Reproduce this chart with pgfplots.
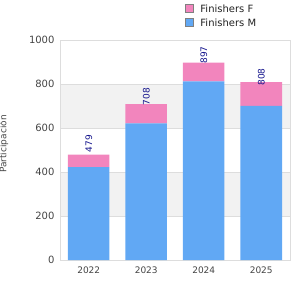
\documentclass[border=0pt]{standalone}
\usepackage{fontspec}
\setmainfont{DejaVu Sans}
\usepackage{pgfplots}
\usepackage{pgfplotstable}
\pgfplotsset{compat=1.18}
\definecolor{barM}{RGB}{97,168,244}
\definecolor{barF}{RGB}{242,133,189}
\definecolor{band}{RGB}{242,242,242}
\definecolor{gridc}{RGB}{221,221,221}
\definecolor{txt}{RGB}{68,68,68}
\definecolor{lbl}{RGB}{20,20,140}
\pgfplotstableread{
x M F total
0 422 57 479
1 621 87 708
2 812 85 897
3 700 108 808
}\data
\begin{document}
\begin{tikzpicture}[x=1pt,y=1pt]
\useasboundingbox (-60,-40) rectangle (240,260);
\begin{axis}[
  at={(0,0)}, anchor=south west,
  scale only axis, width=230pt, height=220pt,
  xmin=-0.5, xmax=3.5, ymin=0, ymax=1000, hide axis]
\fill[band] (axis cs:-0.5,200) rectangle (axis cs:3.5,400);
\fill[band] (axis cs:-0.5,600) rectangle (axis cs:3.5,800);
\end{axis}
\begin{axis}[
  at={(0,0)}, anchor=south west,
  scale only axis, width=230pt, height=220pt,
  xmin=-0.5, xmax=3.5, ymin=0, ymax=1000,
  xtick={0,1,2,3}, xticklabels={2022,2023,2024,2025},
  ytick={0,200,400,600,800,1000},
  major tick length=0pt,
  ymajorgrids, grid style={gridc, line width=0.6pt},
  axis line style={draw=gridc, line width=0.8pt},
  ticklabel style={text=txt},
  xticklabel style={font=\fontsize{9}{10}\selectfont, yshift=-3pt},
  yticklabel style={font=\fontsize{10}{11}\selectfont, xshift=-2pt},
  /pgf/number format/assume math mode=true,
  /pgf/number format/1000 sep={},
  ylabel={Participación}, ylabel style={font=\fontsize{9}{10}\selectfont, text=txt, yshift=14pt, xshift=6pt},
  ybar stacked, bar width=41.5pt,
  legend style={draw=none, fill=none, at={(rel axis cs:0.53,1.18)}, anchor=north west, font=\fontsize{10}{11}\selectfont, text={rgb,255:red,34;green,34;blue,34}, row sep=1pt},
  legend cell align=left,
  reverse legend,
  legend image code/.code={\draw[#1, draw=gray, line width=0.7pt] (0pt,-3.5pt) rectangle (8pt,4.5pt); \path (13pt,0pt);},
]
\addplot[fill=barM, draw=none] table[x=x, y=M] {\data};
\addlegendentry{Finishers M}
\addplot[fill=barF, draw=none,
  nodes near coords, point meta=explicit,
  every node near coord/.style={rotate=90, anchor=west, font=\fontsize{9}{10}\selectfont, text=lbl, xshift=5pt}
] table[x=x, y=F, meta=total] {\data};
\addlegendentry{Finishers F}
\end{axis}
\end{tikzpicture}
\end{document}
